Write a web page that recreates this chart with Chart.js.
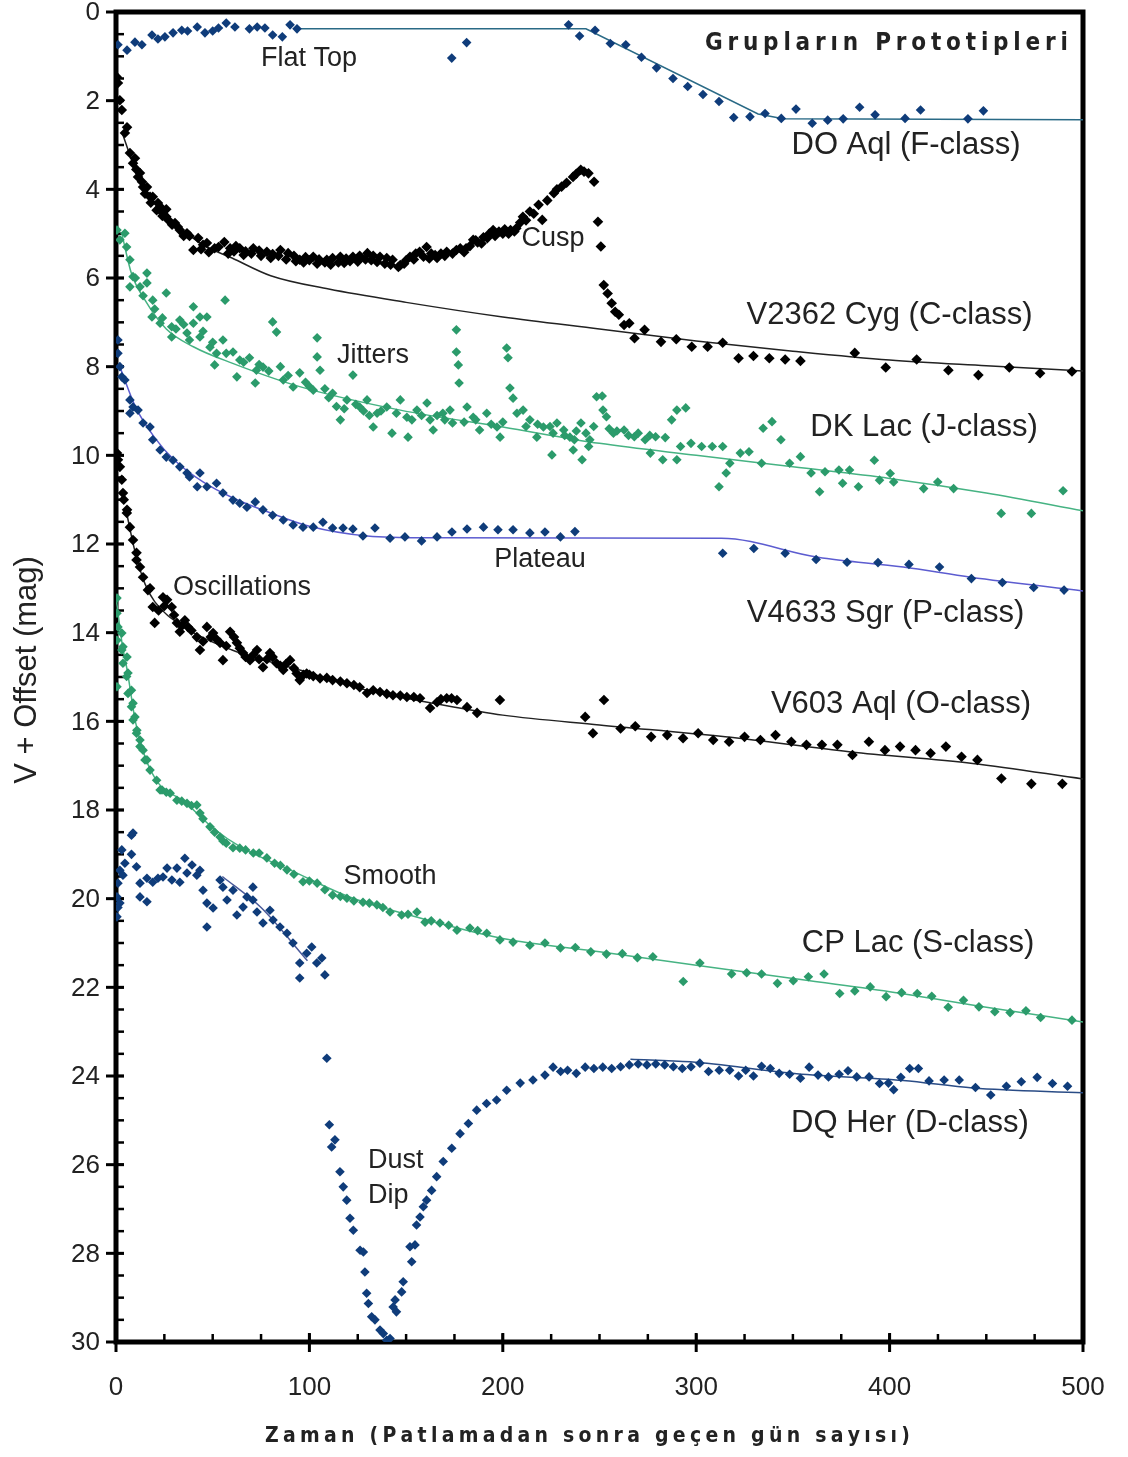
<!DOCTYPE html>
<html><head><meta charset="utf-8">
<script src="https://cdn.jsdelivr.net/npm/chart.js@4.4.1/dist/chart.umd.min.js"></script>
<style>html,body{margin:0;padding:0;background:#fff}#wrap{width:1128px;height:1457px;position:relative}</style>
</head><body><div id="wrap"><canvas id="c" width="1128" height="1457"></canvas></div>
<script>
// ---------- tick labels ----------
const xTickValues = [0, 100, 200, 300, 400, 500];
const yTickValues = [0, 2, 4, 6, 8, 10, 12, 14, 16, 18, 20, 22, 24, 26, 28, 30];

// ---------- observations [day, V + offset] ----------
const doAql = [[1,0.74],[5.7,0.86],[9.8,0.68],[13.4,0.74],[18.6,0.52],[21.7,0.61],[25.3,0.56],[29.5,0.47],[34,0.41],[37,0.43],[42,0.34],[46,0.47],[50,0.43],[53,0.36],[57,0.25],[61.5,0.34],[69,0.38],[73,0.34],[77,0.36],[81,0.52],[86,0.56],[90,0.29],[93.6,0.38],[173.6,1.04],[181.3,0.69],[234,0.29],[239.7,0.54],[247.7,0.41],[255.6,0.71],[263.6,0.74],[271.7,1.02],[279.5,1.26],[288,1.5],[295.6,1.68],[303.5,1.86],[311.8,2.02],[319.4,2.38],[327.8,2.36],[335.6,2.29],[344,2.4],[351.6,2.19],[360,2.51],[368,2.44],[376,2.41],[384.5,2.15],[392.5,2.32],[408,2.4],[416,2.21],[440.5,2.41],[448.5,2.23]];

const v2362Cyg = [[0.5,1.47],[1,1.6],[2,1.99],[3,2.21],[4.6,2.73],[5.7,2.6],[7.2,3.18],[8.8,3.41],[9.8,3.3],[10.5,3.55],[11.4,3.72],[12.4,3.63],[13.4,3.83],[14,3.95],[15,4.1],[16,3.95],[17.6,4.17],[18,4.3],[19,4.17],[21,4.47],[21.7,4.31],[23,4.4],[24,4.6],[24.3,4.54],[26,4.45],[26,4.62],[27,4.69],[29,4.8],[30.5,4.76],[32,4.85],[33,4.92],[35,5.05],[36.7,4.99],[38,5.05],[40,5.37],[42.5,5.1],[44,5.35],[45,5.25],[47,5.21],[48,5.42],[51,5.33],[53,5.3],[56,5.19],[58,5.45],[59,5.33],[61,5.4],[62,5.28],[64,5.33],[66,5.48],[67,5.4],[70,5.45],[71,5.33],[74,5.38],[75,5.5],[78,5.41],[80,5.55],[81,5.46],[84,5.5],[85,5.37],[88,5.58],[89,5.44],[92,5.5],[93,5.62],[95,5.59],[97,5.65],[98,5.53],[100,5.6],[102,5.52],[104,5.68],[105,5.58],[108,5.65],[109,5.59],[111,5.7],[112,5.55],[115,5.65],[116,5.52],[118,5.66],[119,5.56],[121,5.62],[122.5,5.52],[125,5.63],[126,5.5],[129,5.58],[130,5.44],[132,5.6],[133,5.5],[135,5.64],[136.5,5.52],[139,5.68],[140,5.55],[142,5.7],[143,5.59],[146,5.75],[147,5.71],[149,5.68],[150,5.6],[152,5.52],[154,5.58],[155,5.45],[157,5.41],[159,5.52],[160.6,5.3],[162,5.56],[163,5.45],[165,5.48],[166,5.55],[168,5.45],[170,5.5],[171,5.41],[174,5.45],[176,5.37],[178,5.33],[180,5.42],[181,5.33],[183,5.28],[184.7,5.14],[186,5.15],[187,5.2],[189,5.22],[190,5.08],[192,5.1],[193,5.0],[195,4.92],[196,5.05],[198,4.95],[200,5.0],[201,4.9],[203,5.0],[204,4.92],[206,4.95],[207,4.88],[209,4.75],[210.4,4.62],[212,4.7],[214,4.5],[216,4.55],[218.5,4.35],[220.4,4.69],[223,4.25],[226.4,4.09],[228,4.0],[230.4,3.94],[233,3.85],[236.3,3.72],[238,3.65],[240.3,3.56],[242,3.6],[244.3,3.64],[247.2,3.83],[249.2,4.73],[250.7,5.29],[252.2,6.16],[254.2,6.35],[256.3,6.57],[258.1,6.76],[260,6.83],[262.7,7.06],[265.4,7.02],[268.1,7.36],[273.3,7.17],[281.8,7.44],[289.7,7.38],[297.7,7.55],[305.9,7.55],[313.7,7.46],[321.9,7.81],[329.6,7.76],[337.8,7.81],[346,7.84],[353.9,7.87],[382,7.69],[398,8.02],[414,7.84],[430.4,8.08],[445.9,8.19],[461.9,8.02],[477.8,8.15],[494.3,8.11]];

const dkLac = [[0.5,4.92],[2,5.14],[4.6,4.99],[5.5,5.3],[7.2,5.59],[7.2,6.2],[8.8,5.97],[10,6.0],[12.4,6.2],[14,6.4],[16,5.89],[16,6.11],[18.6,6.88],[19,6.5],[20,6.7],[22.8,7.02],[24,6.9],[26,6.34],[28.8,7.1],[28.8,7.33],[31,7.15],[33,6.95],[35,7.05],[36.7,7.24],[38,7.4],[40,6.65],[40,7.02],[43.4,6.88],[43.4,7.33],[45,7.2],[47,6.88],[48.6,7.56],[50,7.45],[51,7.96],[52,7.7],[55.3,7.4],[56.4,6.5],[57,7.7],[60.5,7.67],[62.5,8.23],[64,7.85],[66,7.9],[69,7.8],[72,8.37],[72.6,8.08],[74,7.95],[76,8.01],[79,8.1],[81,6.99],[83,7.22],[85,8.0],[86.5,8.3],[89,8.2],[91.6,8.46],[95,8.14],[98,8.35],[100,8.45],[102,8.53],[104,7.35],[104,7.78],[105.5,8.08],[108,8.5],[110,8.7],[112,8.6],[114,8.9],[116,9.2],[118,8.95],[119.4,8.75],[122.5,8.19],[124,8.85],[126,8.91],[128,9.0],[129.8,8.75],[131,9.1],[133,9.36],[135,9.05],[137,9.0],[140,8.91],[142.7,9.5],[145,9.05],[147,8.75],[150.4,9.14],[151,9.59],[153,9.2],[155.6,8.98],[158,9.1],[160.8,8.82],[162.4,9.2],[164,9.43],[166,9.1],[169,9.05],[170,9.2],[172.7,8.98],[174,9.27],[176,7.17],[176,7.67],[177,7.96],[177.4,8.37],[180,9.25],[181.5,8.91],[184.7,9.14],[186,9.2],[188,9.43],[191.7,9.05],[194,9.3],[197,9.36],[198.6,9.59],[200,9.25],[202,7.58],[202.7,7.8],[203.7,8.48],[205.3,8.71],[207.3,9.05],[210.5,8.98],[212,9.35],[214,9.2],[217.6,9.59],[218,9.3],[221,9.36],[224.4,9.35],[225.4,9.99],[226,9.5],[228,9.27],[231.5,9.43],[232,9.55],[234.7,9.59],[236.4,9.88],[237,9.65],[238,9.45],[240.4,9.27],[241,10.1],[243,9.5],[244.4,9.8],[245,9.65],[247,9.35],[248.5,8.68],[251.4,8.66],[251.8,8.98],[253.6,9.13],[255,9.4],[257.2,9.5],[259,9.45],[262.7,9.43],[265,9.55],[268,9.58],[270,9.5],[273.6,9.65],[276,9.55],[276.3,9.95],[279,9.58],[282.7,10.1],[284,9.6],[287.3,9.2],[290,8.98],[294.6,8.93],[291.9,9.8],[290,10.1],[297.3,9.73],[302.8,9.8],[308.3,9.8],[313.7,9.8],[317.4,10.18],[315.5,10.4],[311.8,10.71],[322.8,9.95],[327.3,9.92],[333.8,10.18],[334.6,9.39],[339.2,9.24],[343.8,9.65],[348.3,10.18],[353.9,10.03],[359.4,10.4],[363.8,10.82],[366.6,10.37],[373.8,10.33],[375.7,10.63],[379.3,10.33],[383.9,10.71],[392.1,10.11],[394.8,10.56],[400.3,10.41],[402.1,10.6],[417.6,10.75],[424.9,10.6],[433.1,10.75],[457.7,11.31],[473.3,11.31],[489.7,10.8]];

const v4633Sgr = [[1,7.4],[1,7.7],[2,8.0],[3,8.23],[4.6,8.3],[7.2,8.75],[7.2,9.05],[8.8,8.91],[11.4,8.98],[14,9.27],[17.6,9.36],[19,9.65],[22.8,9.88],[26,10.04],[29.5,10.11],[33,10.26],[36.7,10.4],[38,10.49],[42,10.71],[43.4,10.4],[47,10.71],[52,10.63],[55.3,10.85],[60.5,11.01],[64,11.08],[67.7,11.17],[72,11.05],[76,11.23],[81,11.35],[86.5,11.46],[91.6,11.57],[96.7,11.62],[102,11.62],[107,11.51],[112,11.64],[117.4,11.64],[122.5,11.66],[127.7,11.82],[133.9,11.64],[141.7,11.87],[149.4,11.84],[158,11.93],[166,11.84],[173.7,11.73],[181.5,11.66],[190,11.62],[197.5,11.68],[205.3,11.68],[214,11.75],[221.8,11.73],[229.8,11.84],[237.3,11.72],[313.7,12.21],[329.8,12.1],[346,12.21],[362,12.35],[378,12.41],[394,12.42],[410,12.46],[425.8,12.52],[442.3,12.78],[458.3,12.87],[474.5,12.98],[490.2,13.04]];

const v603Aql = [[0.5,9.95],[1,10.1],[2,10.26],[3,10.55],[3.6,10.85],[4,11.0],[5.7,11.23],[5.6,11.3],[7.2,11.62],[8.8,11.91],[10.6,12.2],[10.6,12.36],[12.4,12.52],[14,12.75],[16.5,13.04],[17.6,13.0],[19,13.42],[20,13.78],[22,13.5],[24.3,13.2],[25,13.4],[26.4,13.26],[28.8,13.42],[30,13.6],[31.5,13.78],[33,13.98],[34,13.85],[35.6,13.72],[37.2,13.87],[39,13.95],[41.8,14.1],[43.4,14.39],[45,14.2],[47,13.87],[49,14.1],[50.2,14.01],[52,14.15],[53.8,14.23],[55.3,14.62],[57,14.3],[59,13.98],[61,14.1],[62.5,14.23],[64,14.35],[65.7,14.46],[67,14.55],[69.3,14.62],[71,14.5],[72.9,14.39],[74,14.6],[76,14.78],[78,14.6],[79.6,14.46],[81,14.55],[83,14.69],[85,14.75],[86.5,14.84],[88,14.7],[90,14.62],[92,14.8],[93.4,14.92],[95,15.07],[97,14.95],[98.6,14.92],[100,14.95],[102,14.98],[105.5,15.03],[109,15.02],[112,15.07],[116,15.1],[119.4,15.14],[123,15.18],[126,15.23],[129.8,15.36],[133,15.3],[136.5,15.34],[140,15.38],[143.2,15.41],[147,15.42],[150.4,15.45],[154,15.45],[157.2,15.48],[162.4,15.7],[166,15.57],[168,15.5],[171,15.48],[173.5,15.48],[176.3,15.52],[181.5,15.68],[186.7,15.81],[198.5,15.52],[242.6,15.9],[246.6,16.27],[252.3,15.52],[260.9,16.16],[268.5,16.11],[276.7,16.35],[285,16.31],[293.2,16.38],[301,16.27],[308.8,16.42],[317,16.46],[325,16.35],[333.2,16.42],[341,16.31],[349.2,16.46],[357,16.53],[365,16.53],[373,16.53],[380.8,16.76],[389.3,16.46],[397.6,16.65],[405.4,16.57],[413.4,16.65],[421.2,16.72],[429.1,16.57],[437.2,16.8],[445.4,16.87],[457.8,17.29],[473.3,17.41],[489.3,17.41]];

const cpLac = [[0.5,13.22],[0.5,13.56],[1,13.87],[0.5,14.17],[3,14.01],[3,14.39],[3.6,14.32],[3.6,14.69],[5.5,14.99],[5.7,14.55],[0.5,15.22],[6.2,15.37],[6.2,14.91],[8,15.3],[8,15.67],[8.8,15.59],[8.8,15.97],[9.8,15.9],[10.6,16.27],[10.8,16.2],[12.4,16.42],[12.4,16.57],[14,16.65],[15,16.87],[16,16.87],[17.6,17.1],[21,17.33],[22.8,17.55],[23.8,17.55],[26,17.6],[28,17.62],[31.5,17.78],[34,17.8],[36.7,17.85],[39,17.9],[41.8,17.89],[43.4,18.07],[45,18.2],[48.6,18.38],[51,18.5],[53.8,18.61],[55.3,18.7],[57,18.75],[60.5,18.85],[64,18.86],[67,18.9],[71,18.97],[74,18.97],[78,19.08],[82,19.2],[85,19.25],[88.4,19.35],[92,19.45],[96.7,19.62],[100,19.6],[104,19.65],[108,19.8],[112,19.92],[116,19.95],[119.4,19.99],[123,20.05],[127.7,20.08],[131,20.1],[134.9,20.14],[138,20.2],[141.7,20.3],[147.7,20.37],[151,20.35],[155.6,20.3],[159.8,20.53],[163,20.5],[167.5,20.55],[172,20.6],[176.3,20.71],[183,20.66],[187,20.72],[191.7,20.78],[198.5,20.93],[205.3,20.98],[214,21.05],[221.8,21.0],[229.8,21.11],[237.5,21.1],[245.5,21.2],[253.6,21.25],[261.8,21.24],[269.6,21.33],[277.6,21.31],[293.3,21.87],[301.9,21.45],[318.3,21.7],[326.1,21.67],[333.8,21.7],[342,21.91],[350.2,21.85],[358,21.76],[366.1,21.7],[374.2,22.14],[382,22.08],[390,21.99],[398.2,22.21],[406.2,22.12],[414.3,22.14],[421.8,22.2],[430.3,22.45],[438.2,22.29],[446.2,22.44],[454.4,22.55],[462.3,22.57],[470.5,22.53],[478.1,22.68],[494.3,22.74]];

const dqHer = [[0.5,19.96],[0.5,20.41],[1,19.65],[1,20.2],[2,19.36],[2,20.1],[3,18.9],[3.6,19.47],[4.6,19.2],[8,18.57],[8,19.0],[8.8,18.52],[10.6,19.28],[12.4,19.65],[12.4,19.96],[16,19.54],[16,20.07],[19,19.63],[21.7,19.54],[24.3,19.51],[26.4,19.31],[28.9,19.58],[31.5,19.31],[33,19.63],[35.6,19.09],[36.7,19.42],[39.3,19.24],[41.8,19.47],[43.4,19.36],[45,19.81],[47,20.1],[47,20.64],[50.2,20.21],[53.8,19.58],[55.3,19.74],[57.4,20.03],[60.5,19.81],[62.5,20.37],[65.7,20.19],[67.7,19.96],[70.8,19.74],[70.8,20.03],[72.9,20.3],[76,20.55],[79.6,20.26],[81.2,20.48],[84.8,20.64],[88.4,20.78],[91.5,21.0],[95,21.45],[95,21.79],[98.6,21.23],[101.2,21.09],[103.8,21.45],[106.4,21.34],[108,21.72],[109,23.6],[110.3,25.1],[111.5,25.6],[113.2,25.44],[115.8,26.16],[117.5,26.5],[119.3,26.8],[121,27.21],[122.7,27.48],[126.2,27.93],[127.9,27.97],[128.7,28.42],[129.6,28.9],[130.5,29.13],[132.2,29.43],[133.9,29.5],[136.5,29.73],[138.2,29.81],[140,29.96],[141.7,29.92],[143.3,29.21],[144.3,29.05],[145,29.32],[147.7,28.87],[148.5,28.64],[152,27.85],[152.9,28.19],[154.6,27.81],[155.4,27.36],[157.2,27.18],[158.9,26.95],[160.6,26.8],[163.2,26.58],[165.8,26.27],[169.2,25.93],[173.6,25.63],[177.9,25.3],[182.2,25.07],[186.5,24.77],[191.6,24.62],[196.8,24.54],[202,24.32],[209,24.16],[215.6,24.09],[221.8,23.98],[226,23.8],[229.9,23.9],[233.5,23.87],[238,23.94],[242.6,23.8],[247.1,23.83],[251.7,23.8],[256.3,23.83],[260.9,23.79],[265.4,23.75],[270,23.73],[274.5,23.75],[279.1,23.73],[283.7,23.75],[288.2,23.79],[292.8,23.83],[297.3,23.79],[301.9,23.71],[306.4,23.9],[311.9,23.87],[317.3,23.87],[321.9,24.0],[325.6,23.87],[329.6,24.0],[333.8,23.78],[338.3,23.83],[342.9,23.94],[348.3,23.96],[353.9,24.05],[358.4,23.8],[363,23.98],[368.4,24.02],[373.9,23.96],[378.5,23.88],[383,24.02],[389.4,24.02],[394.8,24.17],[399.4,24.16],[402.1,24.31],[405.8,24.03],[410.4,23.83],[414.9,23.83],[420.4,24.11],[428.2,24.09],[436,24.09],[444.4,24.26],[452.3,24.43],[460.4,24.23],[468.1,24.13],[476.3,24.03],[484.2,24.17],[492,24.23]];

// ---------- model (fit) curves ----------
const doAqlFit = [[95,0.38],[243,0.38],[332,2.3],[345,2.41],[500,2.43]];
const v2362CygFit = [[3,2.7],[10,3.55],[20,4.3],[30,4.75],[45,5.25],[60,5.55],[80,5.95],[110,6.25],[150,6.55],[200,6.88],[250,7.15],[300,7.42],[350,7.65],[400,7.85],[450,7.98],[500,8.1]];
const dkLacFit = [[3,5.0],[8,5.9],[15,6.5],[26,7.15],[40,7.55],[60,7.92],[95,8.45],[147,8.98],[200,9.36],[250,9.73],[300,10.0],[350,10.26],[400,10.52],[450,10.85],[500,11.25]];
const v4633SgrFit = [[2,8.0],[10,8.9],[20,9.6],[30,10.1],[45,10.6],[60,10.95],[80,11.3],[100,11.6],[130,11.82],[160,11.86],[313,11.87],[363,12.3],[407,12.52],[442,12.75],[500,13.06]];
const v603AqlFit = [[5,11.2],[10,12.2],[15,12.9],[20,13.3],[35,13.87],[60,14.39],[95,14.84],[130,15.3],[165,15.6],[200,15.86],[250,16.08],[315,16.35],[380,16.69],[443,16.95],[500,17.3]];
const cpLacFit = [[0,13.2],[3,14.2],[6,14.9],[10,16.0],[15,16.8],[22,17.4],[35,17.8],[50,18.4],[65,18.85],[90,19.35],[120,19.95],[150,20.35],[200,20.9],[250,21.2],[300,21.5],[350,21.8],[400,22.1],[450,22.45],[500,22.78]];
const dqHerFitEarly = [[55,19.5],[75,20.2],[99,21.4]];
const dqHerFitLate = [[266,23.62],[297,23.68],[352,23.95],[407,24.1],[443,24.27],[500,24.38]];

// ---------- annotation texts ----------
const notes = [
  {t:'Flat Top', x:99.8, y:1.04, s:27},
  {t:'Cusp', x:226, y:5.1, s:27},
  {t:'Jitters', x:132.9, y:7.76, s:27},
  {t:'Plateau', x:219.2, y:12.36, s:27},
  {t:'Oscillations', x:65.1, y:12.99, s:27},
  {t:'Smooth', x:141.7, y:19.51, s:27},
  {t:'Dust', x:130.3, y:25.9, s:27, a:'left'},
  {t:'Dip', x:130.3, y:26.69, s:27, a:'left'},
  {t:'DO Aql (F-class)', x:408.5, y:3.02, s:31},
  {t:'V2362 Cyg (C-class)', x:400, y:6.84, s:31},
  {t:'DK Lac (J-class)', x:417.8, y:9.38, s:31},
  {t:'V4633 Sgr (P-class)', x:397.9, y:13.56, s:31},
  {t:'V603 Aql (O-class)', x:405.9, y:15.61, s:31},
  {t:'CP Lac (S-class)', x:414.7, y:21.02, s:31},
  {t:'DQ Her (D-class)', x:410.5, y:25.06, s:31}
];
const groupTitle = 'Grupların Prototipleri';
const xTitle = 'Zaman (Patlamadan sonra geçen gün sayısı)';
const yTitle = 'V + Offset (mag)';

// ---------- build ----------
const NAVY = '#0f3c7a', GREEN = '#2b9b6b', BLACK = '#000000';
const toXY = arr => arr.map(p => ({x:p[0], y:p[1]}));
function pts(label, arr, color, r){
  return {label, data:toXY(arr), backgroundColor:color, borderColor:color, pointStyle:'rectRot',
    pointRadius:r, pointBorderWidth:0, showLine:false, order:1};
}
function fit(label, arr, color, smooth){
  const d = {label, data:toXY(arr), borderColor:color, backgroundColor:color, borderWidth:1.5,
    pointRadius:0, showLine:true, order:2};
  if (smooth) d.cubicInterpolationMode = 'monotone'; else d.tension = 0;
  return d;
}

const datasets = [
  fit('DO Aql fit', doAqlFit, '#2a6a86', false),
  fit('V2362 Cyg fit', v2362CygFit, '#222', true),
  fit('DK Lac fit', dkLacFit, '#46b383', true),
  fit('V4633 Sgr fit', v4633SgrFit, '#5c5cd0', true),
  fit('V603 Aql fit', v603AqlFit, '#222', true),
  fit('CP Lac fit', cpLacFit, '#46b383', true),
  fit('DQ Her fit 1', dqHerFitEarly, '#4a5a9a', true),
  fit('DQ Her fit 2', dqHerFitLate, '#2a4c86', true),
  pts('DO Aql', doAql, NAVY, 4.8),
  pts('V2362 Cyg', v2362Cyg, BLACK, 5.3),
  pts('DK Lac', dkLac, GREEN, 4.8),
  pts('V4633 Sgr', v4633Sgr, NAVY, 4.8),
  pts('V603 Aql', v603Aql, BLACK, 5.3),
  pts('CP Lac', cpLac, GREEN, 4.8),
  pts('DQ Her', dqHer, NAVY, 4.8)
];

function spaced(ctx, text, left, right, y){
  const ch = Array.from(text);
  const w = ch.map(c => ctx.measureText(c).width);
  const tot = w.reduce((a,b)=>a+b,0);
  const gap = (right-left-tot)/(ch.length-1);
  let x = left;
  ch.forEach((c,i)=>{ ctx.fillText(c, x, y); x += w[i] + gap; });
}

const framePlugin = {
  id:'frame',
  beforeDatasetsDraw(chart){
    const {ctx, chartArea:a, scales:{x, y}} = chart;
    ctx.save();
    ctx.strokeStyle = '#000'; ctx.lineCap = 'butt';
    ctx.lineWidth = 2.5;
    for (let v = 0; v <= 30; v += 0.5){
      const py = y.getPixelForValue(v);
      ctx.beginPath(); ctx.moveTo(a.left, py); ctx.lineTo(a.left+8, py); ctx.stroke();
    }
    ctx.lineWidth = 3;
    yTickValues.forEach(v => { const py = y.getPixelForValue(v);
      ctx.beginPath(); ctx.moveTo(a.left-10, py); ctx.lineTo(a.left+8, py); ctx.stroke(); });
    ctx.lineWidth = 2.5;
    for (let v = 0; v <= 500; v += 25){
      const px = x.getPixelForValue(v);
      ctx.beginPath(); ctx.moveTo(px, a.bottom); ctx.lineTo(px, a.bottom-8); ctx.stroke();
    }
    ctx.lineWidth = 3;
    xTickValues.forEach(v => { const px = x.getPixelForValue(v);
      ctx.beginPath(); ctx.moveTo(px, a.bottom-9); ctx.lineTo(px, a.bottom+10); ctx.stroke(); });
    ctx.lineWidth = 5;
    ctx.strokeRect(a.left, a.top, a.right - a.left, a.bottom - a.top);
    ctx.fillStyle = '#222';
    ctx.font = '26px "Liberation Sans", Arial, sans-serif';
    ctx.textBaseline = 'middle'; ctx.textAlign = 'right';
    yTickValues.forEach(v => ctx.fillText(String(v), a.left - 16, y.getPixelForValue(v) + 1));
    ctx.textAlign = 'center';
    xTickValues.forEach(v => ctx.fillText(String(v), x.getPixelForValue(v), 1388));
    ctx.restore();
  },
  afterDraw(chart){
    const {ctx, scales:{x, y}} = chart;
    ctx.save();
    ctx.fillStyle = '#222'; ctx.textBaseline = 'middle';
    notes.forEach(n => {
      ctx.font = n.s + 'px "Liberation Sans", Arial, sans-serif';
      ctx.textAlign = n.a || 'center';
      ctx.fillText(n.t, x.getPixelForValue(n.x), y.getPixelForValue(n.y));
    });
    ctx.textAlign = 'left';
    ctx.font = 'bold 24px "DejaVu Sans Condensed", "DejaVu Sans", sans-serif';
    spaced(ctx, groupTitle, x.getPixelForValue(304.5), x.getPixelForValue(492.2), y.getPixelForValue(0.72));
    ctx.font = 'bold 21px "DejaVu Sans Condensed", "DejaVu Sans", sans-serif';
    spaced(ctx, xTitle, 265, 910, 1437);
    ctx.translate(27, 670); ctx.rotate(-Math.PI/2);
    ctx.textAlign = 'center';
    ctx.font = '31px "Liberation Sans", Arial, sans-serif';
    ctx.fillText(yTitle, 0, 0);
    ctx.restore();
  }
};

new Chart(document.getElementById('c'), {
  type:'scatter',
  data:{datasets},
  options:{
    responsive:false, devicePixelRatio:1, animation:false,
    layout:{padding:{top:12, right:45, left:0, bottom:0}},
    plugins:{legend:{display:false}, tooltip:{enabled:false}},
    scales:{
      x:{type:'linear', min:0, max:500,
         grid:{display:false}, border:{display:false},
         afterBuildTicks: s => { s.ticks = xTickValues.map(v => ({value:v})); },
         afterFit: s => { s.height = 115; },
         ticks:{display:false}},
      y:{type:'linear', min:0, max:30, reverse:true,
         grid:{display:false}, border:{display:false},
         afterBuildTicks: s => { s.ticks = yTickValues.map(v => ({value:v})); },
         afterFit: s => { s.width = 116; },
         ticks:{display:false}}
    }
  },
  plugins:[framePlugin]
});
</script>
</body></html>
